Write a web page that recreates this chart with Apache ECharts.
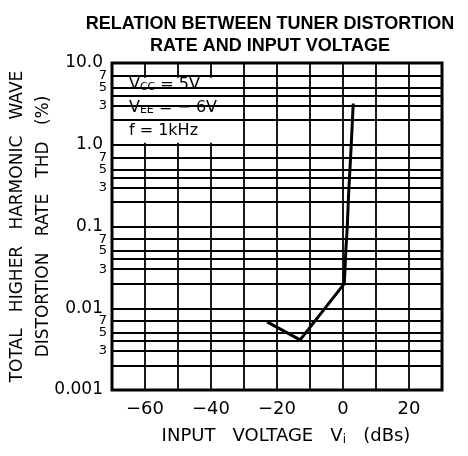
<!DOCTYPE html>
<html>
<head>
<meta charset="utf-8">
<script src="https://cdn.jsdelivr.net/npm/echarts@6/dist/echarts.min.js"></script>
<style>html,body{margin:0;padding:0;background:#fff;}#c{width:468px;height:456px;}</style>
</head>
<body>
<div id="c"></div>
<script>
// ---- data ----
const inputVoltage = [-23, -13, 0.4, 0.9, 1.3, 1.7, 2.5, 3.1];   // dBs
const thd = [0.0068, 0.0041, 0.02, 0.055, 0.1, 0.25, 1.0, 3.2];   // %
const xTickLabels = [-60, -40, -20, 0, 20];
const yMajorLabels = ['0.001', '0.01', '0.1', '1.0', '10.0'];
const decades = [0.001, 0.01, 0.1, 1];
const minorMultipliers = [2, 3, 4, 5, 7];
const minorLabelled = [3, 5, 7];
const titleLines = ['RELATION BETWEEN TUNER DISTORTION', 'RATE AND INPUT VOLTAGE'];
const yName = ['TOTAL   HIGHER   HARMONIC   WAVE', 'DISTORTION   RATE   THD   (%)'];

const FONT = 'DejaVu Sans';
const chart = echarts.init(document.getElementById('c'), null, {renderer: 'canvas'});

const minorLines = [];
decades.forEach(d => minorMultipliers.forEach(m => {
  minorLines.push({
    yAxis: +(d * m).toPrecision(3),
    label: {show: minorLabelled.indexOf(m) >= 0, formatter: String(m)}
  });
}));

function yLabel(v) {
  const e = Math.round(Math.log10(v));
  return yMajorLabels[e + 3] || '';
}

chart.setOption({
  animation: false,
  backgroundColor: '#fff',
  title: {
    text: titleLines.join('\n'),
    left: 265, top: 8, textAlign: 'center',
    textStyle: {fontFamily: 'Liberation Sans', fontWeight: 'bold', fontSize: 18, lineHeight: 22, color: '#000'}
  },
  grid: {left: 112, top: 63, width: 330, height: 327, show: true, borderColor: '#000', borderWidth: 3,
         backgroundColor: 'transparent', outerBoundsMode: 'none', containLabel: false},
  xAxis: {
    type: 'value', min: -70, max: 30, interval: 10,
    axisLine: {show: false}, axisTick: {show: false},
    splitLine: {show: true, lineStyle: {color: '#000', width: 1.8}},
    axisLabel: {
      margin: 10, fontFamily: FONT, fontSize: 18, color: '#000',
      formatter: v => xTickLabels.indexOf(v) >= 0 ? (v < 0 ? '−' + Math.abs(v) : String(v)) : ''
    },
    name: 'INPUT   VOLTAGE   V{s|i}   (dBs)', nameLocation: 'middle', nameGap: 37, nameMoveOverlap: false,
    nameTextStyle: {fontFamily: FONT, fontSize: 18, color: '#000', padding: [0, 0, 0, 18],
                    rich: {s: {fontFamily: FONT, fontSize: 12, color: '#000', padding: [7, 0, 0, 0]}}}
  },
  yAxis: {
    type: 'log', logBase: 10, min: 0.001, max: 10,
    axisLine: {show: false}, axisTick: {show: false},
    splitLine: {show: true, lineStyle: {color: '#000', width: 1.8}},
    axisLabel: {margin: 9, fontFamily: FONT, fontSize: 17, color: '#000', formatter: yLabel},
    name: yName.join('\n'), nameLocation: 'middle', nameRotate: 90, nameGap: 55, nameMoveOverlap: false,
    nameTextStyle: {fontFamily: FONT, fontSize: 17, lineHeight: 26, color: '#000', align: 'center'}
  },
  series: [
    {
      type: 'line', z: 1, data: [[-70, 1]], showSymbol: false, lineStyle: {width: 0}, silent: true,
      markLine: {
        silent: true, symbol: ['none', 'none'], animation: false, precision: 6,
        lineStyle: {color: '#000', width: 1.8, type: 'solid'},
        label: {position: 'start', distance: 5, fontFamily: FONT, fontSize: 13, color: '#000'},
        emphasis: {disabled: true},
        data: minorLines
      }
    },
    {
      type: 'line', z: 3, data: [[-70, 1]], showSymbol: false, lineStyle: {width: 0}, silent: true,
      markArea: {
        silent: true,
        itemStyle: {color: '#fff', opacity: 1},
        label: {
          show: true, position: 'insideTopLeft', distance: 0, offset: [13, -4],
          fontFamily: FONT, fontSize: 16, color: '#000', lineHeight: 23,
          formatter: '{v|V}{s|CC}{v| = 5V}\n{v|V}{s|EE}{v| = − 6V}\n{v|f = 1kHz}',
          rich: {
            v: {fontFamily: FONT, fontSize: 16, color: '#000', lineHeight: 23},
            s: {fontFamily: FONT, fontSize: 11, color: '#000', lineHeight: 23, padding: [4, 0, 0, 0]}
          }
        },
        emphasis: {disabled: true},
        data: [[{xAxis: -68.8, yAxis: 1.06}, {xAxis: -35.5, yAxis: 6.6}]]
      }
    },
    {
      type: 'line', z: 5, showSymbol: false, silent: true,
      lineStyle: {color: '#000', width: 3},
      data: inputVoltage.map((x, i) => [x, thd[i]])
    }
  ]
});
</script>
</body>
</html>
